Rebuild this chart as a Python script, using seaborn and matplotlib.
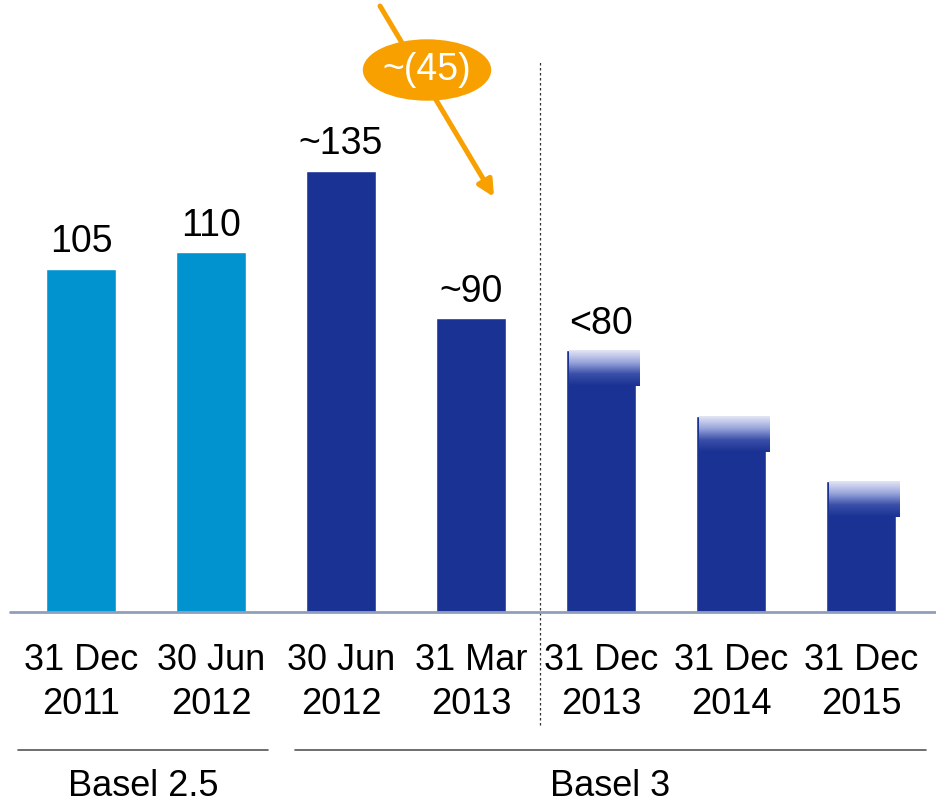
"""Risk-weighted assets bar chart, Basel 2.5 vs Basel 3."""

import matplotlib

matplotlib.use("Agg")

import matplotlib.pyplot as plt
import numpy as np
import pandas as pd
import seaborn as sns
from matplotlib.colors import LinearSegmentedColormap
from matplotlib.patches import Ellipse

DATES_TOP = ["31 Dec", "30 Jun", "30 Jun", "31 Mar", "31 Dec", "31 Dec", "31 Dec"]
DATES_BOTTOM = ["2011", "2012", "2012", "2013", "2013", "2014", "2015"]
VALUES = [105, 110, 135, 90, 80, 60, 40]
VALUE_LABELS = ["105", "110", "~135", "~90", "<80", "", ""]
REGIME = ["Basel 2.5", "Basel 2.5", "Basel 3", "Basel 3", "Basel 3", "Basel 3", "Basel 3"]
TARGET = [False, False, False, False, True, True, True]

LIGHT_BLUE = "#0093d0"
NAVY = "#1a3293"
ORANGE = "#f7a000"
FONT = ["Liberation Sans", "DejaVu Sans"]

sns.set_theme(style="white")
plt.rcParams["font.family"] = FONT
plt.rcParams["text.color"] = "black"

df = pd.DataFrame(
    {
        "key": [f"{i}: {a} {b}" for i, (a, b) in enumerate(zip(DATES_TOP, DATES_BOTTOM))],
        "value": VALUES,
    }
)
colors = [LIGHT_BLUE if i < 2 else NAVY for i in range(len(VALUES))]

fig = plt.figure(figsize=(9.36, 8.02), dpi=100)
ax = fig.add_axes([0, 0, 1, 1])

# pixel scale: 130 px per category, 3.27 px per unit, baseline at 612 px from top
px_x, px_y = 130.0, 3.27


def px2x(p):
    return (p - 81) / px_x


def px2y(p):
    return (612 - p) / px_y


sns.barplot(
    data=df, x="key", y="value", hue="key", palette=colors, order=list(df["key"]),
    width=0.54, legend=False, ax=ax, saturation=1, errorbar=None,
)
ax.set_xlim(px2x(0), px2x(936))
ax.set_ylim(px2y(802), px2y(0))
ax.axis("off")

# faded tops on the target bars
cmap = LinearSegmentedColormap.from_list("fade", ["#e2e5f4", "#9aa6dc", "#3a4fa8", NAVY])
grad = np.linspace(0, 1, 64).reshape(-1, 1)
for i, (v, t) in enumerate(zip(VALUES, TARGET)):
    if t:
        shift = 3 / px_x
        ax.imshow(
            grad, cmap=cmap, aspect="auto", zorder=3, origin="upper",
            extent=[i - 0.27 + shift, i + 0.27 + shift, v - 11, v],
        )
ax.set_xlim(px2x(0), px2x(936))
ax.set_ylim(px2y(802), px2y(0))

# value labels
for i, (v, lab) in enumerate(zip(VALUES, VALUE_LABELS)):
    if lab:
        ax.text(i, v + 8, lab, ha="center", va="center", fontsize=27)

# baseline
ax.plot([px2x(10), px2x(936)], [0, 0], color="#8f9fba", lw=2, zorder=4)

# tick labels
for i, (a, b) in enumerate(zip(DATES_TOP, DATES_BOTTOM)):
    ax.text(i, px2y(660), a, ha="center", va="center", fontsize=26)
    ax.text(i, px2y(705), b, ha="center", va="center", fontsize=26)

# divider between Basel 2.5 and Basel 3
x_div = px2x(540)
ax.plot([x_div, x_div], [px2y(725), px2y(60)],
        color="#333333", lw=0.9, ls=(0, (2, 2)))

# regime brackets
ax.plot([px2x(18), px2x(268)], [px2y(750), px2y(750)], color="#555555", lw=1.2)
ax.plot([px2x(295), px2x(926)], [px2y(750), px2y(750)], color="#555555", lw=1.2)
ax.text(px2x(143), px2y(786), "Basel 2.5", ha="center", va="center", fontsize=26)
ax.text(px2x(610), px2y(786), "Basel 3", ha="center", va="center", fontsize=26)

# reduction arrow and bubble
ax.annotate(
    "", xy=(px2x(494), px2y(197)), xytext=(px2x(380), px2y(6)),
    arrowprops=dict(arrowstyle="-|>,head_length=0.8,head_width=0.4",
                    color=ORANGE, lw=3.6, shrinkA=0, shrinkB=0),
    zorder=5,
)
ax.add_patch(Ellipse((px2x(427), px2y(70)), 127 / px_x, 60 / px_y,
                     color=ORANGE, zorder=6))
ax.text(px2x(427), px2y(70), "~(45)", ha="center", va="center",
        fontsize=27, color="white", zorder=7)

fig.savefig("out.png", dpi=100)
